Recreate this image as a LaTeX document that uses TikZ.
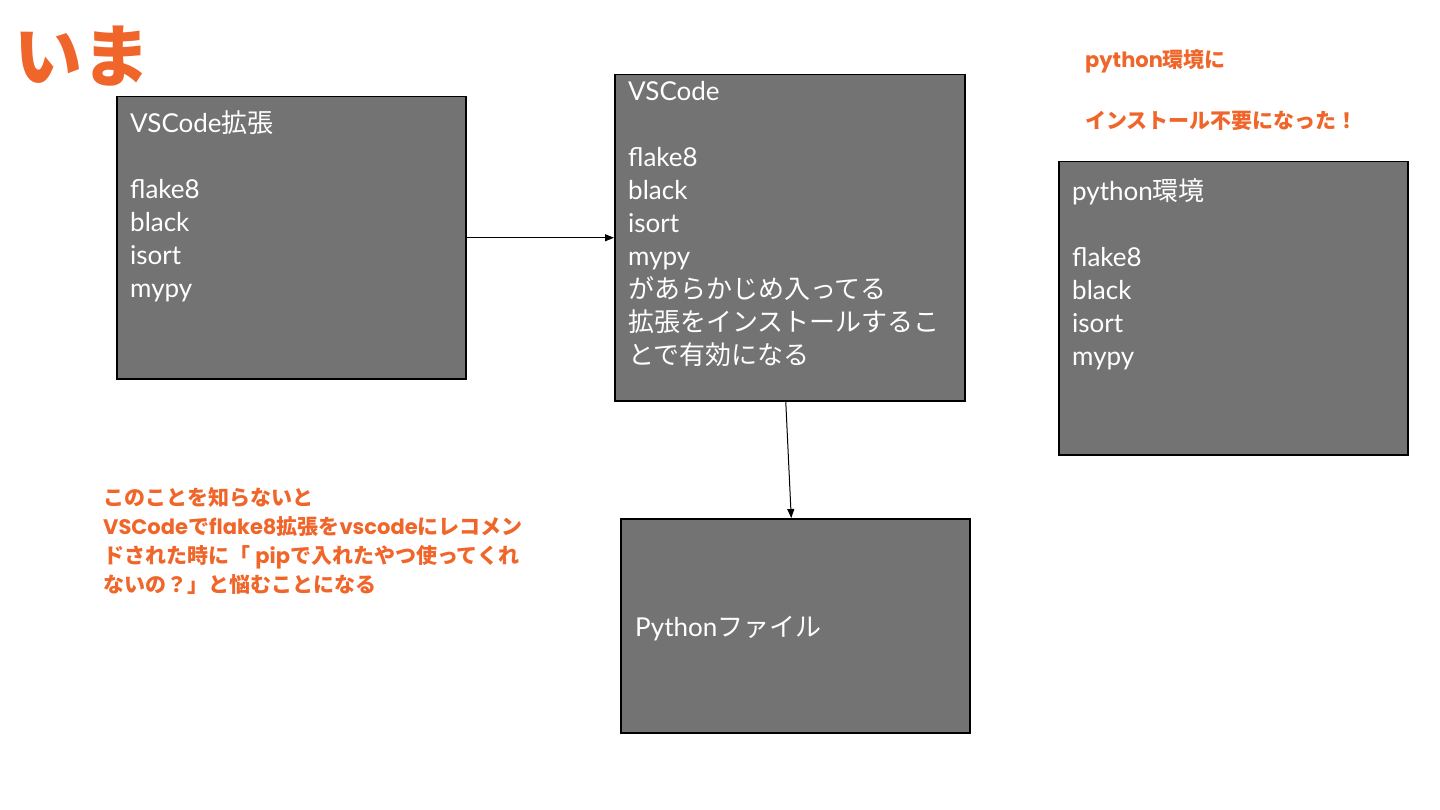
\documentclass[tikz,border=0pt]{standalone}
\usepackage{fontspec}
\setmainfont{Lato}
\newfontfamily\jp{Noto Sans CJK JP}
\newfontfamily\pop{Poppins}
\usetikzlibrary{arrows.meta}
\definecolor{boxgray}{RGB}{115,115,115}
\definecolor{orng}{RGB}{240,101,41}
\tikzset{
  graybox/.style={draw=black, line width=1.5pt, fill=boxgray, anchor=north west, inner sep=0pt},
  boxtext/.style={text=white, anchor=base west, inner sep=0pt, align=left, font=\fontsize{26}{33}\selectfont},
  note/.style={text=orng, anchor=base west, inner sep=0pt, align=left, font=\fontsize{21}{29}\selectfont\bfseries},
  conn/.style={draw=black, line width=1pt, -{Triangle[length=9pt,width=7pt]}}
}
\begin{document}
\begin{tikzpicture}[x=1pt,y=-1pt]
\useasboundingbox[fill=white] (0,0) rectangle (1440,810);
% boxes
\node[graybox, minimum width=349pt, minimum height=282pt] (b1) at (116,96) {};
\node[graybox, minimum width=350pt, minimum height=326pt] (b2) at (614,74) {};
\node[graybox, minimum width=349pt, minimum height=293pt] (b3) at (1058,161) {};
\node[graybox, minimum width=349pt, minimum height=214pt] (b4) at (620,518) {};
% box texts (anchor = baseline of last line)
\node[boxtext] (t1) at (130,298) {VSCode{\jp 拡張}\\[33pt]flake8\\black\\isort\\mypy};
\node[boxtext] (t2) at (628,364) {VSCode\\[33pt]flake8\\black\\isort\\mypy\\{\jp があらかじめ入ってる}\\{\jp 拡張をインストールするこ}\\{\jp とで有効になる}};
\node[boxtext] (t3) at (1072,365) {python{\jp 環境}\\[33pt]flake8\\black\\isort\\mypy};
\node[boxtext] (t4) at (635,636) {Python{\jp ファイル}};
% connectors
\draw[conn] (b1.east) -- (b2.west |- b1.east);
\draw[conn] ([xshift=-4pt]b2.south) -- ([xshift=-4pt]b4.north);
% orange notes
\node[text=orng, anchor=base west, inner sep=0pt, font=\jp\fontsize{68}{68}\selectfont\bfseries] (title) at (14,82) {いま};
\node[note] (n1) at (1085,68) {{\pop python}{\jp 環境に}};
\node[note] (n2) at (1085,129) {{\jp インストール不要になった！}};
\node[note] (n3) at (103,592) {{\jp このことを知らないと}\\{\pop VSCode}{\jp で}{\pop flake8}{\jp 拡張を}{\pop vscode}{\jp にレコメン}\\{\jp ドされた時に「} {\pop pip}{\jp で入れたやつ使ってくれ}\\{\jp ないの？」と悩むことになる}};
\end{tikzpicture}
\end{document}
